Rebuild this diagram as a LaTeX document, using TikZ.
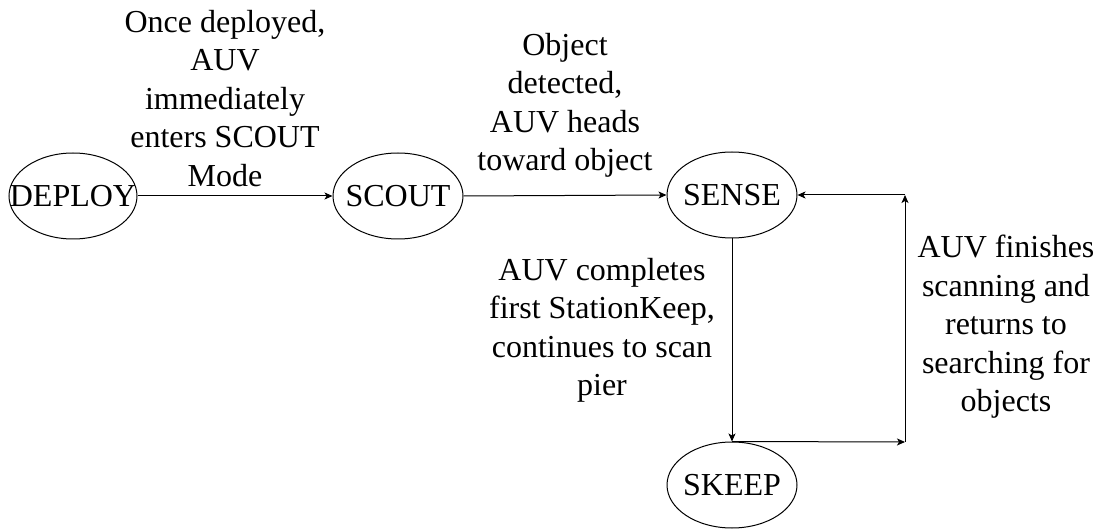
\documentclass[tikz,border=0pt]{standalone}
\usepackage{fontspec}
\setmainfont{Liberation Serif}
\usetikzlibrary{shapes.geometric,arrows.meta}
\newcommand\bigf{\fontsize{32}{38.5}\selectfont}
\begin{document}
\begin{tikzpicture}[x=1pt,y=-1pt,
  state/.style={draw,ellipse,line width=1pt,minimum width=130pt,minimum height=86pt,inner sep=0pt},
  lbl/.style={align=center,inner sep=0pt,anchor=north,font=\bigf},
  conn/.style={line width=1pt,-{Stealth[length=8pt,width=7pt,inset=2pt]}}]
\useasboundingbox (0,0) rectangle (1101,529);
\node[state,minimum width=128pt,label={[font=\bigf]center:DEPLOY}] (deploy) at (73,196) {};
\node[state,label={[font=\bigf]center:SCOUT}] (scout) at (398,196) {};
\node[state,label={[font=\bigf]center:SENSE}] (sense) at (732,195) {};
\node[state,label={[font=\bigf]center:SKEEP}] (skeep) at (732,485) {};
\coordinate (c1) at (905,442);
\coordinate (c2) at (905,195);
\draw[conn] (deploy.east) -- (scout.west);
\draw[conn] (scout.east) -- (sense.west);
\draw[conn] (sense.south) -- (skeep.north);
\draw[conn] (skeep.north) -- (c1);
\draw[conn] (c1) -- (c2);
\draw[conn] (c2) -- (sense.east);
\node[lbl] (l1) at (225,10) {Once deployed,\\AUV\\immediately\\enters SCOUT\\Mode};
\node[lbl] (l2) at (565,33) {Object\\detected,\\AUV heads\\toward object};
\node[lbl] (l3) at (602,258) {AUV completes\\first StationKeep,\\continues to scan\\pier};
\node[lbl] (l4) at (1006,235) {AUV finishes\\scanning and\\returns to\\searching for\\objects};
\end{tikzpicture}
\end{document}
